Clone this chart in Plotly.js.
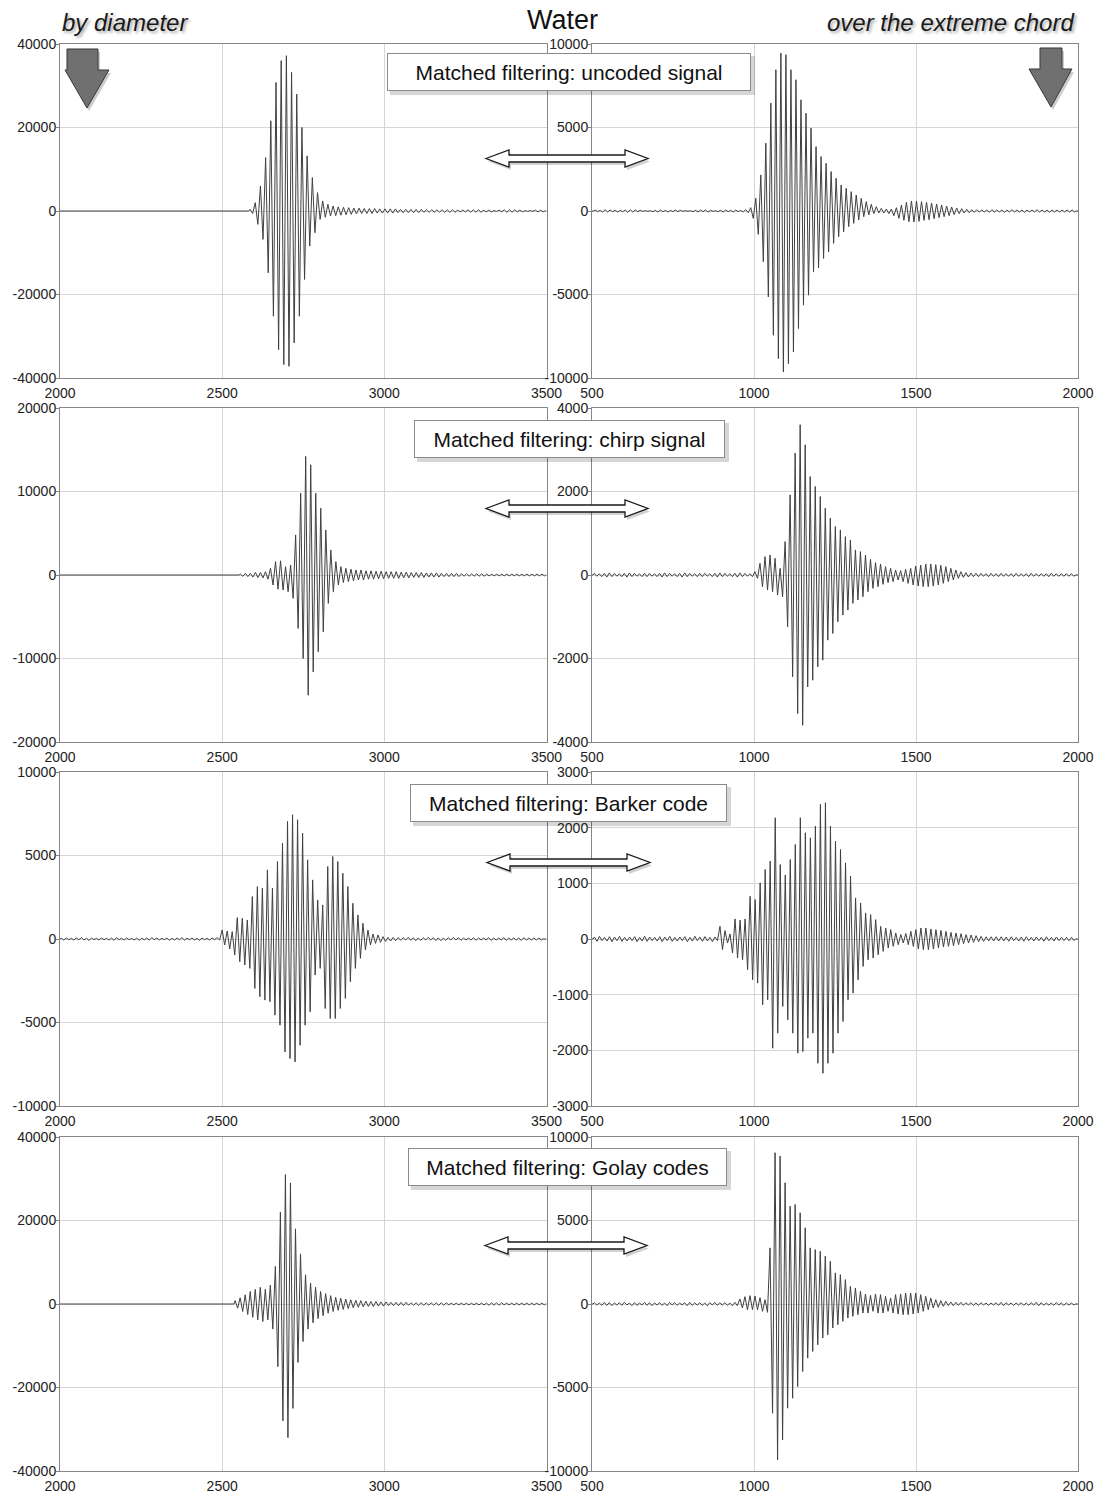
<!DOCTYPE html>
<html><head><meta charset="utf-8">
<script src="https://cdn.plot.ly/plotly-3.0.1.min.js"></script>
<style>html,body{margin:0;padding:0;background:#fff}#chart{width:1096px;height:1497px}</style>
</head><body><div id="chart"></div>
<script>
// ---------------- DATA ----------------
// Each signal: evenly spaced samples starting at *_start with spacing *_period;
// *_pos = positive peak of each cycle, *_neg = magnitude of the negative peak that follows.
const leftRange = [2000, 3500];
const rightRange = [500, 2000];
const leftXTicks = [2000, 2500, 3000, 3500];
const rightXTicks = [500, 1000, 1500, 2000];

const titles = ["Matched filtering: uncoded signal", "Matched filtering: chirp signal",
                "Matched filtering: Barker code", "Matched filtering: Golay codes"];

// Row 1 – uncoded signal
const L1_start = 2586, L1_period = 16;
const L1_pos = [400,2000,6000,12800,21600,30800,36000,37200,33200,28000,20000,13200,8000,4400,2400,1600,
  1200,1000,900,800,700,700,600,600,600,500,500,500,500,400,400,400,400,400,300,300,
  300,300,300,300,200,200,300,300,300,200,200,100,200,300,300,300,200,100,100,200,200];
const L1_neg = [600,3200,6800,14800,25200,33200,36800,37200,31600,25200,16400,8400,5200,2000,1500,1200,
  1100,1000,900,800,700,600,600,600,500,500,500,500,400,400,400,400,400,300,300,300,
  300,300,300,300,200,200,300,300,300,200,200,100,200,300,300,200,200,100,100,200,200];
const L1_yTicks = [-40000,-20000,0,20000,40000];

const R1_start = 509.5, R1_period = 15.5;
const R1_pos = [60,40,80,60,40,40,60,80,60,40,20,20,40,60,40,40,60,40,20,20,40,60,60,40,20,40,60,40,60,40,80,
  200,760,2160,4060,6460,8460,9460,9360,8460,7860,6660,5860,4960,3860,3260,2860,2360,1960,1560,1360,
  1160,960,760,560,400,260,160,120,120,200,360,520,600,600,560,520,
  480,420,360,300,240,180,140,100,80,80,60,60,80,60,60,60,80,60,60,60,60,80,60,60,60,60,60,60,60];
const R1_neg = [40,60,60,40,60,40,80,60,40,20,20,40,60,40,60,40,40,20,20,40,60,40,60,20,40,60,40,60,40,60,100,
  440,1400,3040,5140,7440,8840,9640,9140,8440,7040,5640,5040,3640,3400,2840,2440,1940,1540,1240,940,
  740,540,340,240,160,120,120,160,280,440,560,640,660,620,560,520,
  460,400,340,280,220,160,120,100,80,60,60,80,60,60,80,60,60,60,80,60,60,60,60,80,60,60,60,60,60];
const R1_yTicks = [-10000,-5000,0,5000,10000];

// Row 2 – chirp signal
const L2_start = 2556, L2_period = 15.5;
const L2_pos = [100,200,200,300,300,400,800,1600,1700,1000,1200,4800,9800,14200,13200,9800,8000,5400,3000,1600,1000,
  800,700,600,600,500,500,450,450,400,400,400,350,350,300,300,300,250,250,250,200,
  200,200,200,150,150,150,150,150,100,100,100,100,100,100,100,100,100,100,100,100];
const L2_neg = [150,200,250,300,350,500,1200,1700,1800,2000,2800,6400,10000,14400,11600,9200,6800,3400,2000,1200,900,
  800,700,600,600,500,500,450,450,400,400,400,350,350,300,300,300,250,250,250,200,
  200,200,200,150,150,150,150,150,100,100,100,100,100,100,100,100,100,100,100,100];
const L2_yTicks = [-20000,-10000,0,10000,20000];

const R2_start = 507, R2_period = 15.5;
const R2_pos = [40,30,40,50,40,30,40,50,40,30,40,40,30,40,50,40,30,40,50,40,30,40,40,30,40,50,40,30,40,50,40,30,
  80,280,440,480,400,160,800,1920,2920,3600,3120,2360,2120,1880,1600,1360,1160,1080,920,840,
  600,560,480,376,296,264,200,160,120,104,136,160,216,240,264,264,248,232,200,160,120,80,56,
  48,40,40,32,40,32,40,32,32,40,32,32,40,32,32,32,40,32,32,32,32];
const R2_neg = [30,40,50,40,30,40,50,40,30,40,40,30,40,50,40,30,40,50,40,30,40,40,30,40,50,40,30,40,50,40,30,40,
  80,280,360,400,480,520,1240,2440,3320,3600,2680,2520,2200,2040,1560,1400,1120,960,840,680,
  600,520,400,320,280,224,184,160,120,160,200,240,264,280,280,264,240,200,160,120,80,56,48,
  40,40,32,40,32,40,32,32,40,32,32,40,32,32,32,40,32,32,32,32,32];
const R2_yTicks = [-4000,-2000,0,2000,4000];

// Row 3 – Barker code
const L3_start = 2004, L3_period = 15.5;
const L3_pos = [40,60,40,60,80,40,60,40,60,40,60,80,40,60,40,60,40,60,80,60,40,60,40,60,80,40,60,40,60,40,60,80,
  540,480,440,1280,1240,1140,2540,3140,3040,4140,3040,4640,5740,7040,7440,7140,6340,4740,3540,2340,
  2040,4340,4940,4640,3940,3140,2140,1440,940,540,300,240,140,100,100,80,
  80,100,80,60,80,100,80,60,60,80,100,80,60,60,80,60,60,80,60,60,80,60,60,60,80,60,60,60];
const L3_neg = [60,40,60,40,60,80,40,60,40,60,80,40,60,40,60,80,40,60,40,60,40,80,60,40,60,40,60,80,40,60,40,60,
  360,600,960,1360,1560,1760,2960,3460,3660,3760,4560,5160,6760,7160,7360,6360,5160,4360,2160,1760,
  4160,4760,4760,4160,3560,2560,1760,1160,660,360,260,200,150,120,100,80,
  60,80,100,80,60,60,80,100,80,60,60,80,60,60,80,60,60,80,60,60,80,60,60,80,60,60,60,60];
const L3_yTicks = [-10000,-5000,0,5000,10000];

const R3_start = 507.5, R3_period = 15.5;
const R3_pos = [36,48,30,42,36,48,30,36,42,30,48,36,30,42,36,48,30,36,42,30,48,36,42,30,36,
  228,150,90,360,340,360,768,708,1008,1248,1398,2178,1338,1150,1428,1698,2178,1908,1818,2028,
  2418,2448,2028,1758,1608,1368,1128,738,648,468,438,348,228,198,168,108,80,100,138,168,
  198,198,180,168,156,138,120,108,96,78,72,60,48,40,40,40,
  40,36,40,30,36,40,30,36,30,40,30,36,30,30,30];
const R3_neg = [42,30,36,48,30,42,36,30,48,36,42,30,36,48,30,42,36,30,48,36,30,42,36,48,30,
  192,72,252,342,372,552,732,792,1182,1092,1962,1692,1212,1452,1692,2052,2022,1782,1692,2232,
  2412,2232,2052,1692,1482,1092,972,732,492,372,342,282,222,162,132,102,72,102,132,180,
  192,192,180,162,144,132,120,102,84,72,60,48,42,36,36,36,
  36,40,30,36,40,30,36,30,40,30,36,30,30,30,30];
const R3_yTicks = [-3000,-2000,-1000,0,1000,2000,3000];

// Row 4 – Golay codes
const L4_start = 2540, L4_period = 15.5;
const L4_pos = [800,1500,2200,3000,3500,4000,3500,4500,9000,22000,31000,29000,18000,12000,7000,5000,4000,3000,2500,2000,
  1600,1400,1200,1000,900,800,700,600,600,500,
  500,400,400,400,400,300,300,300,300,300,300,300,300,200,200,200,200,200,200,200,
  200,300,300,300,200,200,200,200,200,200,200,200];
const L4_neg = [1000,1800,2500,3200,3800,4200,3800,6000,15000,28000,32000,25000,14000,9000,6000,4500,3500,2800,2200,1800,
  1500,1300,1100,900,800,700,600,600,500,500,
  400,400,400,400,300,300,300,300,300,300,300,300,200,200,200,200,200,200,200,200,
  300,300,300,200,200,200,200,200,200,200,200,200];
const L4_yTicks = [-40000,-20000,0,20000,40000];

const R4_start = 507, R4_period = 15.5;
const R4_pos = [80,60,100,80,60,80,100,60,80,60,100,80,60,80,60,100,80,60,80,100,60,80,60,80,100,60,80,60,
  100,300,440,500,480,380,260,3360,9060,8860,7260,5860,5960,5460,4560,3360,3260,3160,2860,2560,
  1860,1760,1460,1060,960,760,600,520,600,560,460,360,560,600,660,660,660,560,460,360,
  260,200,160,120,100,100,
  80,80,60,80,60,60,80,100,80,60,60,80,60,80,100,80,60,60,80,60,60,60];
const R4_neg = [60,80,80,100,60,80,60,100,80,60,80,100,60,80,100,60,80,60,100,80,60,80,100,60,80,60,80,100,
  100,240,340,340,340,440,500,6540,9340,8140,6240,5640,4940,4040,3240,2840,2440,2040,1840,1440,
  1240,1040,840,740,640,540,540,440,540,540,440,540,600,640,640,600,540,440,340,240,
  200,140,100,100,80,80,
  60,80,80,60,80,60,80,100,60,80,60,80,80,60,100,80,60,80,60,80,60,60];
const R4_yTicks = [-10000,-5000,0,5000,10000];

// ---------------- BUILD ----------------
const panels = [
  {start:L1_start, period:L1_period, pos:L1_pos, neg:L1_neg, yt:L1_yTicks, left:true},
  {start:R1_start, period:R1_period, pos:R1_pos, neg:R1_neg, yt:R1_yTicks, left:false},
  {start:L2_start, period:L2_period, pos:L2_pos, neg:L2_neg, yt:L2_yTicks, left:true},
  {start:R2_start, period:R2_period, pos:R2_pos, neg:R2_neg, yt:R2_yTicks, left:false},
  {start:L3_start, period:L3_period, pos:L3_pos, neg:L3_neg, yt:L3_yTicks, left:true},
  {start:R3_start, period:R3_period, pos:R3_pos, neg:R3_neg, yt:R3_yTicks, left:false},
  {start:L4_start, period:L4_period, pos:L4_pos, neg:L4_neg, yt:L4_yTicks, left:true},
  {start:R4_start, period:R4_period, pos:R4_pos, neg:R4_neg, yt:R4_yTicks, left:false}
];

const W = 1096, H = 1497;
const PX = x => x / W, PY = y => 1 - y / H;
const rowsPx = [[44,378],[408,742],[772,1106],[1137,1471]];
const colsPx = [[60,546.5],[592,1078]];

const FONT = "Liberation Sans, Arial, sans-serif";
const traces = [];
const layout = {
  width: W, height: H,
  margin: {l:0, r:0, t:0, b:0},
  paper_bgcolor: '#ffffff', plot_bgcolor: '#ffffff',
  showlegend: false,
  shapes: [], annotations: []
};

panels.forEach((p, k) => {
  const row = Math.floor(k/2), col = k % 2;
  const xr = p.left ? leftRange : rightRange;
  const xt = p.left ? leftXTicks : rightXTicks;
  const xs = [xr[0]], ys = [0];
  if (p.start - p.period/4 > xr[0]) { xs.push(p.start - p.period/4); ys.push(0); }
  for (let i = 0; i < p.pos.length; i++) {
    xs.push(p.start + i*p.period); ys.push(p.pos[i]);
    xs.push(p.start + i*p.period + p.period/2); ys.push(-p.neg[i]);
  }
  const last = p.start + (p.pos.length - 1)*p.period + p.period/2;
  if (last + p.period/4 < xr[1]) { xs.push(last + p.period/4); ys.push(0); xs.push(xr[1]); ys.push(0); }
  const n = k + 1;
  traces.push({
    x: xs, y: ys, type: 'scatter', mode: 'lines',
    xaxis: 'x' + (n === 1 ? '' : n), yaxis: 'y' + (n === 1 ? '' : n),
    line: {color: '#404040', width: 1}, hoverinfo: 'skip'
  });
  const xk = 'xaxis' + (n === 1 ? '' : n), yk = 'yaxis' + (n === 1 ? '' : n);
  const c = colsPx[col], r = rowsPx[row];
  layout[xk] = {
    domain: [PX(c[0]), PX(c[1])], range: xr, anchor: 'y' + (n === 1 ? '' : n),
    tickmode: 'array', tickvals: xt, ticktext: xt.map(String),
    showline: true, mirror: true, linecolor: '#868686', linewidth: 1,
    showgrid: true, gridcolor: '#d6d6d6', gridwidth: 1, zeroline: false,
    ticks: '', ticklabelstandoff: 2,
    tickfont: {family: FONT, size: 14, color: '#222'}, fixedrange: true
  };
  const yr = [p.yt[0], p.yt[p.yt.length-1]];
  layout[yk] = {
    domain: [PY(r[1]), PY(r[0])], range: yr, anchor: 'x' + (n === 1 ? '' : n),
    tickmode: 'array', tickvals: p.yt, ticktext: p.yt.map(String),
    showline: true, mirror: true, linecolor: '#868686', linewidth: 1,
    showgrid: true, gridcolor: '#d6d6d6', gridwidth: 1, zeroline: false,
    ticks: 'outside', ticklen: 3, tickcolor: '#868686', ticklabelstandoff: -3,
    tickfont: {family: FONT, size: 14, color: '#222'}, fixedrange: true
  };
});

// ---------------- DECORATIONS ----------------
function poly(pts) {
  return 'M' + pts.map(p => PX(p[0]).toFixed(6) + ',' + PY(p[1]).toFixed(6)).join('L') + 'Z';
}
function shiftPts(pts, dx, dy) { return pts.map(p => [p[0]+dx, p[1]+dy]); }

// text boxes
const boxes = [
  {cx: 569, cy: 72, w: 364, h: 38},
  {cx: 569.5, cy: 439, w: 311, h: 38},
  {cx: 568.5, cy: 803, w: 317, h: 38},
  {cx: 567.5, cy: 1167, w: 319, h: 38}
];
boxes.forEach((b, i) => {
  layout.shapes.push({type: 'rect', xref: 'paper', yref: 'paper', layer: 'above',
    x0: PX(b.cx - b.w/2 + 3), x1: PX(b.cx + b.w/2 + 4), y0: PY(b.cy + b.h/2 + 4), y1: PY(b.cy - b.h/2 + 3),
    fillcolor: 'rgba(0,0,0,0.16)', line: {width: 0}});
  layout.annotations.push({xref: 'paper', yref: 'paper', x: PX(b.cx), y: PY(b.cy),
    xanchor: 'center', yanchor: 'middle', showarrow: false, text: titles[i],
    width: b.w - 2, height: b.h - 2, borderpad: 0, align: 'center',
    bgcolor: '#ffffff', bordercolor: '#8a8a8a', borderwidth: 1,
    font: {family: FONT, size: 21, color: '#111'}});
});

// double arrows
const dArrows = [[486, 648, 158.5], [486, 648, 508.5], [487, 650, 862.5], [485, 647, 1245.5]];
dArrows.forEach(a => {
  const x0 = a[0], x1 = a[1], cy = a[2], hl = 23, hh = 8.5, sh = 3.5;
  const pts = [[x0,cy],[x0+hl,cy-hh],[x0+hl,cy-sh],[x1-hl,cy-sh],[x1-hl,cy-hh],[x1,cy],
               [x1-hl,cy+hh],[x1-hl,cy+sh],[x0+hl,cy+sh],[x0+hl,cy+hh]];
  layout.shapes.push({type: 'path', xref: 'paper', yref: 'paper', layer: 'above',
    path: poly(shiftPts(pts, 2, 3)), fillcolor: 'rgba(0,0,0,0.18)', line: {width: 0}});
  layout.shapes.push({type: 'path', xref: 'paper', yref: 'paper', layer: 'above',
    path: poly(pts), fillcolor: '#ffffff', line: {color: '#1a1a1a', width: 1.3}});
});

// big down arrows
const downArrows = [
  [[67,49],[98,49],[98,70],[109,70],[87,108],[65,70],[67,70]],
  [[1040,48],[1062,48],[1062,69],[1072,69],[1051,107],[1029,69],[1040,69]]
];
downArrows.forEach(pts => {
  layout.shapes.push({type: 'path', xref: 'paper', yref: 'paper', layer: 'above',
    path: poly(shiftPts(pts, 2, 3)), fillcolor: 'rgba(0,0,0,0.2)', line: {width: 0}});
  layout.shapes.push({type: 'path', xref: 'paper', yref: 'paper', layer: 'above',
    path: poly(pts), fillcolor: '#707070', line: {color: '#3a3a3a', width: 1}});
});

// header texts
layout.annotations.push({xref: 'paper', yref: 'paper', x: PX(562), y: PY(20), xanchor: 'center', yanchor: 'middle',
  showarrow: false, text: 'Water', font: {family: FONT, size: 27, color: '#111'}});
layout.annotations.push({xref: 'paper', yref: 'paper', x: PX(60), y: PY(22), xanchor: 'left', yanchor: 'middle',
  showarrow: false, text: 'by diameter',
  font: {family: FONT, size: 24, color: '#1a1a1a', style: 'italic', shadow: '2px 2px 3px rgba(0,0,0,0.35)'}});
layout.annotations.push({xref: 'paper', yref: 'paper', x: PX(1076), y: PY(22), xanchor: 'right', yanchor: 'middle',
  showarrow: false, text: 'over the extreme chord',
  font: {family: FONT, size: 24, color: '#1a1a1a', style: 'italic', shadow: '2px 2px 3px rgba(0,0,0,0.35)'}});

Plotly.newPlot('chart', traces, layout, {staticPlot: true, displayModeBar: false});
</script>
</body></html>
